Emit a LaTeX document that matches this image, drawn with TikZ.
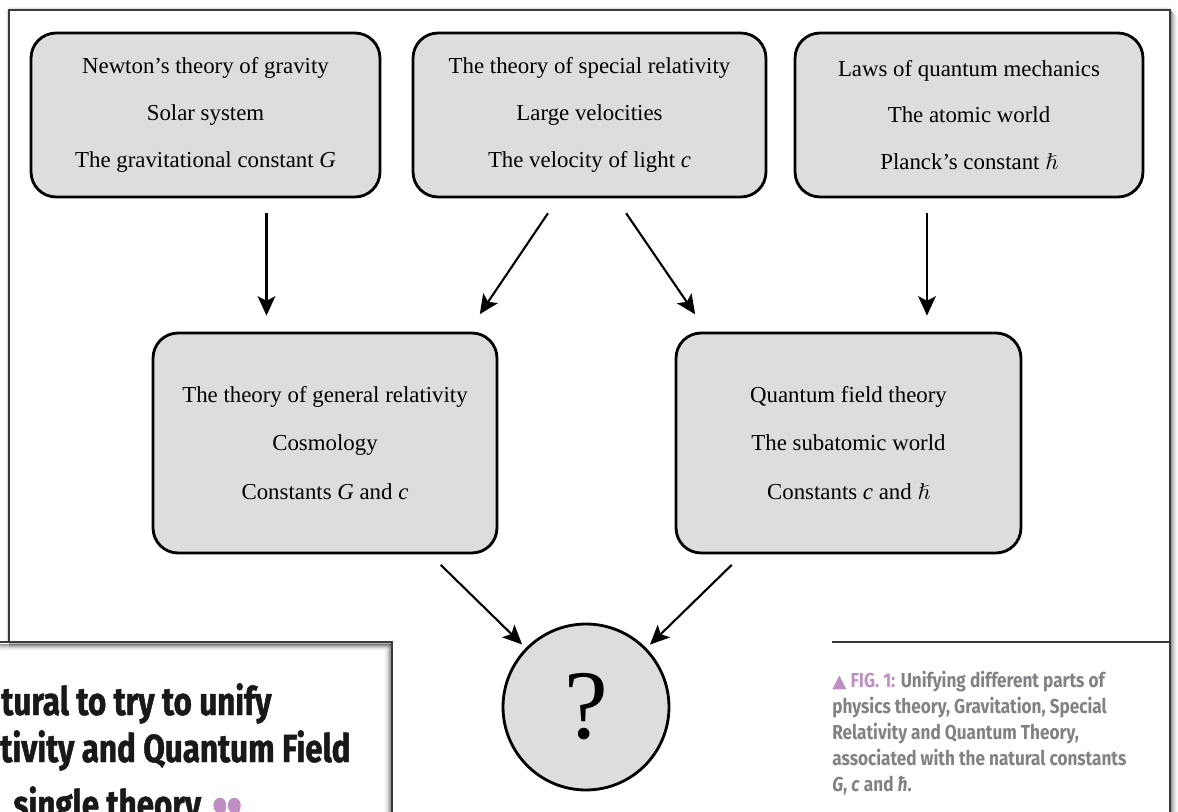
\documentclass[tikz,border=0pt]{standalone}
\usepackage{amssymb}
\usepackage{fontspec}
\setmainfont{Liberation Serif}
\newfontfamily\capfont[FakeStretch=0.85]{Fira Sans}
\newfontfamily\quotefont[FakeStretch=0.80, BoldFeatures={FakeBold=1.2}]{Fira Sans}
\newfontfamily\symfont{DejaVu Sans}
\usetikzlibrary{arrows.meta,calc}
\definecolor{boxgray}{HTML}{DCDDDF}
\definecolor{capgray}{HTML}{808285}
\definecolor{cappurple}{HTML}{BF8FC4}
\definecolor{framegray}{HTML}{3A3A3A}
\begin{document}
\begin{tikzpicture}[x=0.02cm,y=-0.02cm,
  pbox/.style={draw=black, line width=1.6pt, fill=boxgray, rounded corners=0.5cm,
    align=center, inner sep=0pt, font=\fontsize{13}{26.7}\selectfont},
  topbox/.style={pbox, minimum height=3.28cm},
  midbox/.style={pbox, minimum height=4.4cm, font=\fontsize{13}{27.5}\selectfont},
  qcircle/.style={draw=black, line width=1.6pt, fill=boxgray, circle, minimum size=3.32cm, inner sep=0pt, font=\fontsize{56}{60}\selectfont},
  arr/.style={-{Stealth[length=11pt,width=10pt,inset=2.5pt]}, line width=1.2pt},
  capline/.style={anchor=base west, inner sep=0pt, text=capgray, font=\capfont\bfseries\fontsize{11.5}{14.8}\selectfont},
  quoteline/.style={anchor=base west, inner sep=0pt, text=black!90, font=\quotefont\bfseries\fontsize{22.3}{26}\selectfont},
  frameline/.style={draw=framegray, line width=1.2pt},
]
\useasboundingbox (0,0) rectangle (1178,812);
\clip (0,0) rectangle (1178,812);
\fill[white] (0,0) rectangle (1178,812);

% shadows
\foreach \i/\o in {1/0.40,2/0.30,3/0.22,4/0.15,5/0.09,6/0.05,7/0.02}{
  \draw[black, opacity=\o, line width=0.02cm] (9,641+\i) -- (392,641+\i);
  \draw[black, opacity=\o, line width=0.02cm] (1170+\i,10+\i) -- (1170+\i,812);
  \draw[black, opacity=\o, line width=0.02cm] (0,643+\i) -- (392-\i,643+\i);
  \draw[black, opacity=\o, line width=0.02cm] (391-\i,643+\i) -- (391-\i,812);
}
\foreach \i/\o in {1/0.25,2/0.12,3/0.05}{
  \draw[black, opacity=\o, line width=0.02cm] (9-\i,10) -- (9-\i,641+\i);
  \draw[black, opacity=\o, line width=0.02cm] (9,10-\i) -- (1170,10-\i);
}

% frame
\draw[frameline] (9,641) -- (9,10) -- (1170,10) -- (1170,812);
\draw[frameline] (0,642) -- (392,642) -- (392,812);
\draw[frameline] (832,642) -- (1170,642);

% boxes
\node[topbox, minimum width=6.98cm] (b1) at (205.5,115)
  {Newton's theory of gravity\\Solar system\\The gravitational constant \textit{G}};
\node[topbox, minimum width=7.06cm] (b2) at (589.5,115)
  {The theory of special relativity\\Large velocities\\The velocity of light \textit{c}};
\node[topbox, minimum width=6.96cm] (b3) at (969,115)
  {Laws of quantum mechanics\\The atomic world\\Planck's constant $\hslash$};
\node[midbox, minimum width=6.88cm] (b4) at (325,443)
  {The theory of general relativity\\Cosmology\\Constants \textit{G} and \textit{c}};
\node[midbox, minimum width=6.9cm] (b5) at (848.5,443)
  {Quantum field theory\\The subatomic world\\Constants \textit{c} and $\hslash$};
\node[qcircle] (q) at (586,707) {?};

% arrow anchor points
\coordinate (a1s) at ($(b1.south)+(61,0)$);
\coordinate (a4s) at ($(b3.south)+(-42,0)$);
\coordinate (a2s) at ($(b2.south)+(-31.5,0)$);
\coordinate (a2e) at ($(b4.north)+(143,0)$);
\coordinate (a3s) at ($(b2.south)+(26.5,0)$);
\coordinate (a3e) at ($(b5.north)+(-141.5,0)$);
\coordinate (a5s) at ($(b4.south)+(105,0)$);
\coordinate (a6s) at ($(b5.south)+(-106,0)$);

% arrows
\draw[arr, shorten <=0.3cm, shorten >=0.32cm] (a1s) -- (a1s |- b4.north);
\draw[arr, shorten <=0.3cm, shorten >=0.32cm] (a4s) -- (a4s |- b5.north);
\draw[arr, shorten <=0.36cm, shorten >=0.42cm] (a2s) -- (a2e);
\draw[arr, shorten <=0.36cm, shorten >=0.42cm] (a3s) -- (a3e);
\draw[arr, shorten <=0.3cm, shorten >=0.1cm] (a5s) -- (q);
\draw[arr, shorten <=0.3cm, shorten >=0.1cm] (a6s) -- (q);

% pull quote
\node[quoteline] (ql1) at (1,715) {tural to try to unify};
\node[quoteline] (ql2) at (0,762) {tivity and Quantum Field};
\node[quoteline] (ql3) at (13,818) {single theory};
\node[anchor=north west, inner sep=0pt, text=cappurple, font=\quotefont\bfseries\fontsize{50}{50}\selectfont] (qm) at (211,798) {”};

% caption
\node[capline] (c1) at (832,687) {\textcolor{cappurple}{{\symfont\fontsize{10.5}{10}\selectfont ▲} FIG. 1:} Unifying different parts of};
\node[capline] (c2) at (832,713) {physics theory, Gravitation, Special};
\node[capline] (c3) at (832,739) {Relativity and Quantum Theory,};
\node[capline] (c4) at (832,765) {associated with the natural constants};
\node[capline] (c5) at (832,791) {\textit{G}, \textit{c} and \textit{ħ}.};
\end{tikzpicture}
\end{document}
